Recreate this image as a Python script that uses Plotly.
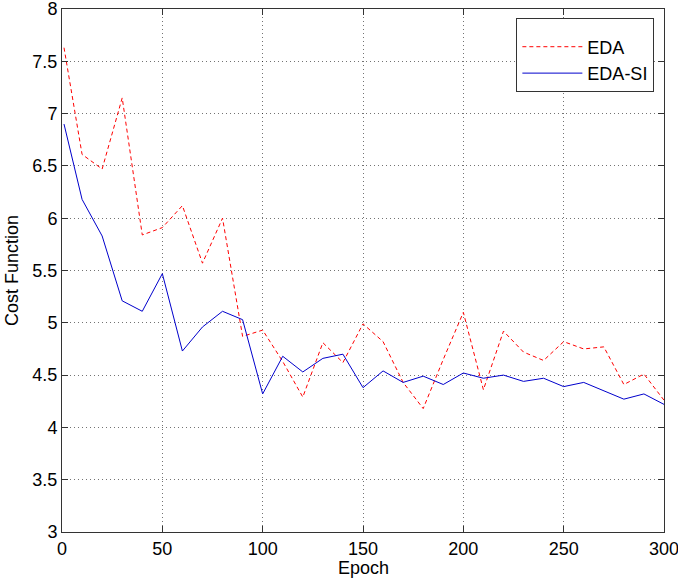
import plotly.graph_objects as go

epoch = [1, 10, 20, 30, 40, 50, 60, 70, 80, 90, 100, 110, 120, 130, 140, 150,
         160, 170, 180, 190, 200, 210, 220, 230, 240, 250, 260, 270, 280, 290, 300]

eda = [7.63, 6.61, 6.47, 7.15, 5.84, 5.91, 6.12, 5.57, 6.00, 4.87, 4.93, 4.63,
       4.29, 4.81, 4.62, 4.99, 4.82, 4.43, 4.18, 4.65, 5.10, 4.36, 4.92, 4.72,
       4.64, 4.82, 4.75, 4.77, 4.41, 4.51, 4.26]

eda_si = [6.90, 6.18, 5.83, 5.21, 5.11, 5.47, 4.73, 4.96, 5.11, 5.03, 4.32, 4.68,
          4.53, 4.66, 4.70, 4.38, 4.54, 4.43, 4.49, 4.41, 4.52, 4.47, 4.50, 4.44,
          4.47, 4.39, 4.43, 4.35, 4.27, 4.32, 4.22]

x_ticks = [0, 50, 100, 150, 200, 250, 300]
y_ticks = [3, 3.5, 4, 4.5, 5, 5.5, 6, 6.5, 7, 7.5, 8]

FONT = "Liberation Sans, Arial, sans-serif"

fig = go.Figure()
fig.add_trace(go.Scatter(x=epoch, y=eda, mode="lines", name="EDA",
                         line=dict(color="#ff0000", width=1, dash="4px,3px")))
fig.add_trace(go.Scatter(x=epoch, y=eda_si, mode="lines", name="EDA-SI",
                         line=dict(color="#0000cc", width=1)))

axis_common = dict(
    showline=True, linecolor="#333333", linewidth=1, mirror="allticks",
    ticks="inside", ticklen=6, tickcolor="#333333", tickwidth=1,
    showgrid=True, gridcolor="rgba(0,0,0,0.55)", griddash="1px,3px", gridwidth=1,
    zeroline=False, tickfont=dict(family=FONT, size=18, color="#000000"),
    automargin=False, ticklabeloverflow="allow",
)

fig.update_xaxes(range=[0, 300], tickvals=x_ticks, ticktext=[str(v) for v in x_ticks],
                 **axis_common)
fig.update_yaxes(range=[3, 8], tickvals=y_ticks, ticktext=[f"{v:g}" for v in y_ticks],
                 **axis_common)

fig.add_annotation(text="Epoch", xref="paper", yref="paper", x=0.5, y=-0.068,
                   xanchor="center", yanchor="middle", showarrow=False,
                   font=dict(family=FONT, size=18, color="#000"))
fig.add_annotation(text="Cost Function", xref="paper", yref="paper", x=-0.084, y=0.5,
                   xanchor="center", yanchor="middle", showarrow=False, textangle=-90,
                   font=dict(family=FONT, size=18, color="#000"))

fig.update_layout(
    width=678, height=582,
    margin=dict(l=62, r=14, t=9, b=50),
    paper_bgcolor="white", plot_bgcolor="white",
    showlegend=True,
    legend=dict(x=0.984, y=0.982, xanchor="right", yanchor="top",
                bgcolor="white", bordercolor="#333333", borderwidth=1,
                font=dict(family=FONT, size=18, color="#000"),
                title=dict(text="&nbsp;", font=dict(size=7)),
                itemwidth=60, tracegroupgap=0),
)

fig.write_html("out.html", config={"displayModeBar": False},
               post_script="document.body.style.margin='0';document.body.style.overflow='hidden';")
